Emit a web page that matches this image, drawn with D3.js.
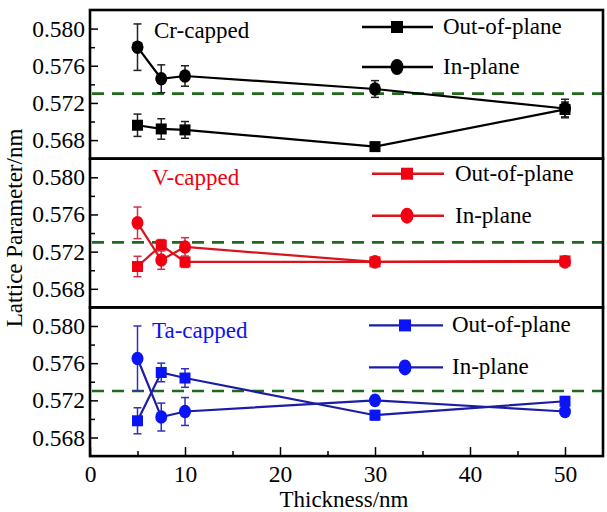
<!DOCTYPE html>
<html>
<head>
<meta charset="utf-8">
<script src="https://cdnjs.cloudflare.com/ajax/libs/d3/7.8.5/d3.min.js"></script>
<style>
  body { margin: 0; background: #fff; }
  svg text { font-family: "Liberation Serif", "Times New Roman", serif; }
</style>
</head>
<body>
<div id="chart"></div>
<script>
// data
var thickness = [5, 7.5, 10, 30, 50];
var panelNames = ["Cr-capped", "V-capped", "Ta-capped"];
var crOut = [0.5696, 0.5692, 0.5691, 0.5673, 0.5713];
var crOutErr = [0.0012, 0.0011, 0.0009, 0.0004, 0.0008];
var crIn = [0.5780, 0.5746, 0.5749, 0.5735, 0.5714];
var crInErr = [0.0025, 0.0015, 0.0011, 0.0009, 0.0010];
var vOut = [0.5704, 0.5727, 0.5709, 0.5709, 0.5710];
var vOutErr = [0.0011, 0.0006, 0.0006, 0.0004, 0.0004];
var vIn = [0.5751, 0.5711, 0.5725, 0.5709, 0.5709];
var vInErr = [0.0017, 0.0010, 0.0010, 0.0004, 0.0004];
var taOut = [0.5698, 0.5750, 0.5744, 0.5704, 0.5719];
var taOutErr = [0.0014, 0.0010, 0.0010, 0.0005, 0.0005];
var taIn = [0.5765, 0.5702, 0.5708, 0.5720, 0.5708];
var taInErr = [0.0035, 0.0015, 0.0015, 0.0004, 0.0005];
var bulkLattice = 0.5730;
var yTicks = [0.568, 0.572, 0.576, 0.580];
var xTicks = [0, 10, 20, 30, 40, 50];
var legendNames = ["Out-of-plane", "In-plane"];

var svgWidth = 607;
var svgHeight = 512;
var left = 90, right = 603, top0 = 10, panelH = 148.7;
var serif = "Liberation Serif";

var svg = d3.select("#chart").append("svg")
  .attr("width", svgWidth)
  .attr("height", svgHeight)
  .attr("font-family", serif);

var x = d3.scaleLinear().domain([0, 54]).range([left, right]);

// per-panel styling / layout
var panels = [
  { out: crOut, outErr: crOutErr, inp: crIn, inErr: crInErr,
    mark: "#000", line: "#000", err: "#222", label: "#000",
    lx: [362, 433, 397, 443], ly: [17, 57], tx: 154, ty: 28 },
  { out: vOut, outErr: vOutErr, inp: vIn, inErr: vInErr,
    mark: "#f00010", line: "#d8141c", err: "#d0304a", label: "#f00010",
    lx: [372, 444, 407, 455], ly: [15, 57], tx: 152, ty: 26 },
  { out: taOut, outErr: taOutErr, inp: taIn, inErr: taInErr,
    mark: "#0a14f5", line: "#1c1ca6", err: "#3030c0", label: "#0a14f5",
    lx: [369, 443, 405, 452], ly: [18, 60], tx: 152, ty: 31 }
];

panels.forEach(function(p, i) {
  var pTop = top0 + i * panelH;
  var y = d3.scaleLinear().domain([0.566, 0.582]).range([pTop + panelH, pTop]);
  var g = svg.append("g");

  // reference dashed line
  g.append("line")
    .attr("x1", left + 2).attr("x2", right)
    .attr("y1", y(bulkLattice)).attr("y2", y(bulkLattice))
    .attr("stroke", "#1f6a1f").attr("stroke-width", 2.6)
    .attr("stroke-dasharray", "12,8");

  // y axis ticks (inward) and labels
  var yAxis = d3.axisRight(y).tickValues(yTicks).tickSize(8).tickFormat(d3.format(".3f"));
  var ya = g.append("g").attr("transform", `translate(${left},0)`).call(yAxis)
    .attr("font-family", serif);
  ya.select(".domain").remove();
  ya.selectAll("line").attr("stroke", "#000").attr("stroke-width", 1.5);
  ya.selectAll("text")
    .attr("x", -5).attr("text-anchor", "end")
    .attr("font-size", 23.5).attr("fill", "#000");
  g.append("g").attr("transform", `translate(${left},0)`)
    .call(d3.axisRight(y).tickValues([0.570, 0.574, 0.578]).tickSize(5).tickFormat(""))
    .call(s => s.select(".domain").remove())
    .selectAll("line").attr("stroke", "#000").attr("stroke-width", 1.5);

  var series = [
    { vals: p.out, errs: p.outErr, shape: "square" },
    { vals: p.inp, errs: p.inErr, shape: "circle" }
  ];

  series.forEach(function(s) {
    var pts = thickness.map((t, k) => ({ t: t, v: s.vals[k], e: s.errs[k] }));
    g.append("path")
      .datum(pts)
      .attr("fill", "none").attr("stroke", p.line).attr("stroke-width", 2.2)
      .attr("d", d3.line().x(d => x(d.t)).y(d => y(d.v)));

    var eb = g.append("g").selectAll("g").data(pts).enter().append("g");
    eb.append("line")
      .attr("x1", d => x(d.t)).attr("x2", d => x(d.t))
      .attr("y1", d => y(d.v - d.e)).attr("y2", d => y(d.v + d.e))
      .attr("stroke", p.err).attr("stroke-width", 1.5);
    [-1, 1].forEach(function(sg) {
      eb.append("line")
        .attr("x1", d => x(d.t) - 4).attr("x2", d => x(d.t) + 4)
        .attr("y1", d => y(d.v + sg * d.e)).attr("y2", d => y(d.v + sg * d.e))
        .attr("stroke", p.err).attr("stroke-width", 1.5);
    });

    var mk = g.append("g").selectAll("path").data(pts).enter();
    if (s.shape === "square") {
      mk.append("rect")
        .attr("x", d => x(d.t) - 5.5).attr("y", d => y(d.v) - 5.5)
        .attr("width", 11).attr("height", 11)
        .attr("fill", p.mark);
    } else {
      mk.append("ellipse")
        .attr("cx", d => x(d.t)).attr("cy", d => y(d.v))
        .attr("rx", 6).attr("ry", 6.8)
        .attr("fill", p.mark);
    }
  });

  // panel label
  g.append("text")
    .attr("x", p.tx).attr("y", pTop + p.ty)
    .attr("font-size", 23).attr("fill", p.label)
    .text(panelNames[i]);

  // legend
  legendNames.forEach(function(name, j) {
    var ly = pTop + p.ly[j];
    g.append("line")
      .attr("x1", p.lx[0]).attr("x2", p.lx[1])
      .attr("y1", ly).attr("y2", ly)
      .attr("stroke", p.line).attr("stroke-width", 2.4);
    if (j === 0) {
      g.append("rect")
        .attr("x", p.lx[2] - 6).attr("y", ly - 6)
        .attr("width", 12).attr("height", 12).attr("fill", p.mark);
    } else {
      g.append("ellipse")
        .attr("cx", p.lx[2]).attr("cy", ly)
        .attr("rx", 6.5).attr("ry", 8).attr("fill", p.mark);
    }
    g.append("text")
      .attr("x", p.lx[3]).attr("y", ly + 7)
      .attr("font-size", 23).attr("fill", "#000")
      .text(name);
  });

  // panel frame
  g.append("rect")
    .attr("x", left).attr("y", pTop)
    .attr("width", right - left).attr("height", panelH)
    .attr("fill", "none").attr("stroke", "#000").attr("stroke-width", 2.6);
});

// x axis on the bottom panel, ticks pointing inward
var bottomY = top0 + 3 * panelH;
var xa = svg.append("g").attr("transform", `translate(0,${bottomY})`)
  .call(d3.axisTop(x).tickValues(xTicks).tickSize(9).tickFormat(d3.format("d")))
  .attr("font-family", serif);
xa.select(".domain").remove();
xa.selectAll("line").attr("stroke", "#000").attr("stroke-width", 1.5);
xa.selectAll("text")
  .attr("y", 26).attr("font-size", 23.5).attr("fill", "#000");
svg.append("g").attr("transform", `translate(0,${bottomY})`)
  .call(d3.axisTop(x).tickValues([5, 15, 25, 35, 45]).tickSize(5).tickFormat(""))
  .call(s => s.select(".domain").remove())
  .selectAll("line").attr("stroke", "#000").attr("stroke-width", 1.5);

svg.append("text")
  .attr("x", 344).attr("y", 507)
  .attr("text-anchor", "middle").attr("font-size", 23)
  .text("Thickness/nm");

svg.append("text")
  .attr("transform", "translate(22,228) rotate(-90)")
  .attr("text-anchor", "middle").attr("font-size", 23)
  .text("Lattice Parameter/nm");
</script>
</body>
</html>
